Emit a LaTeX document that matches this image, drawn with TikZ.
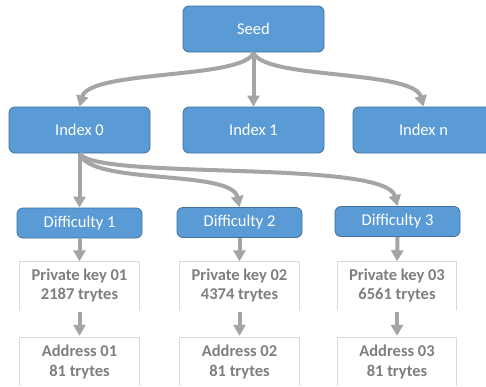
\documentclass[tikz,border=0pt]{standalone}
\usepackage{fontspec}
\setmainfont{Carlito}
\usetikzlibrary{arrows.meta}
\definecolor{boxblue}{HTML}{5B9BD5}
\definecolor{boxedge}{HTML}{41719C}
\definecolor{arrowgray}{HTML}{A5A5A5}
\definecolor{textgray}{HTML}{7F7F7F}
\definecolor{lightedge}{HTML}{D9D9D9}
\begin{document}
\begin{tikzpicture}[x=1pt,y=-1pt,
 bluebox/.style={draw=boxedge, line width=0.8pt, fill=boxblue, rounded corners=6pt, text=white,
   font=\fontsize{16.5}{19}\selectfont, minimum width=141pt, minimum height=46pt, inner sep=0pt},
 diffbox/.style={bluebox, minimum width=125pt, minimum height=30pt},
 textbox/.style={text=textgray, font=\fontsize{16.5}{19.5}\selectfont\bfseries, align=center,
   minimum width=119pt, minimum height=48pt, inner sep=0pt},
 outline/.style={draw=lightedge, line width=0.8pt},
 link/.style={draw=arrowgray, line width=4pt, -{Triangle[width=12pt,length=11pt]}},
]
\useasboundingbox (0,0) rectangle (486,386);
\clip (0,0) rectangle (486,386);
\fill[white] (0,0) rectangle (486,386);

\node[bluebox] (seed) at (253.5,29) {Seed};
\node[bluebox] (idx0) at (79.5,130) {Index 0};
\node[bluebox] (idx1) at (253.5,130) {Index 1};
\node[bluebox] (idxn) at (423.5,130) {Index n};

\node[diffbox] (d1) at (79.5,223) {Difficulty 1};
\node[diffbox] (d2) at (239.5,222.5) {Difficulty 2};
\node[diffbox] (d3) at (397.5,221.5) {Difficulty 3};

\node[textbox] (pk1) at (79.5,285.5) {Private key 01\\2187 trytes};
\node[textbox] (pk2) at (239.5,285.5) {Private key 02\\4374 trytes};
\node[textbox] (pk3) at (397,285.5) {Private key 03\\6561 trytes};

\node[textbox] (ad1) at (79.5,362) {Address 01\\81 trytes};
\node[textbox] (ad2) at (239.5,362) {Address 02\\81 trytes};
\node[textbox] (ad3) at (397,362) {Address 03\\81 trytes};

\foreach \n in {pk1,pk2,pk3,ad1,ad2,ad3}
  \draw[outline] (\n.south west) |- (\n.north east) -- (\n.south east);

\draw[link] (seed.south) -- (idx1.north);
\draw[link] (seed.south) .. controls +(-8,27) and +(10,-37) .. (idx0.north);
\draw[link] (seed.south) .. controls +(8,27) and +(-10,-37) .. (idxn.north);

\draw[link] (idx0.south) -- (d1.north);
\draw[link] (idx0.south) .. controls +(10,32) and +(-8,-38) .. (d2.north);
\draw[link] (idx0.south) .. controls +(15,27) and +(-12,-47) .. (d3.north);

\draw[link] (d1.south) -- (pk1.north);
\draw[link] (d2.south) -- (pk2.north);
\draw[link] (d3.south) -- (pk3.north);

\draw[link, shorten <=2pt, shorten >=2pt] (pk1.south) -- (ad1.north);
\draw[link, shorten <=2pt, shorten >=2pt] (pk2.south) -- (ad2.north);
\draw[link, shorten <=2pt, shorten >=2pt] (pk3.south) -- (ad3.north);
\end{tikzpicture}
\end{document}
